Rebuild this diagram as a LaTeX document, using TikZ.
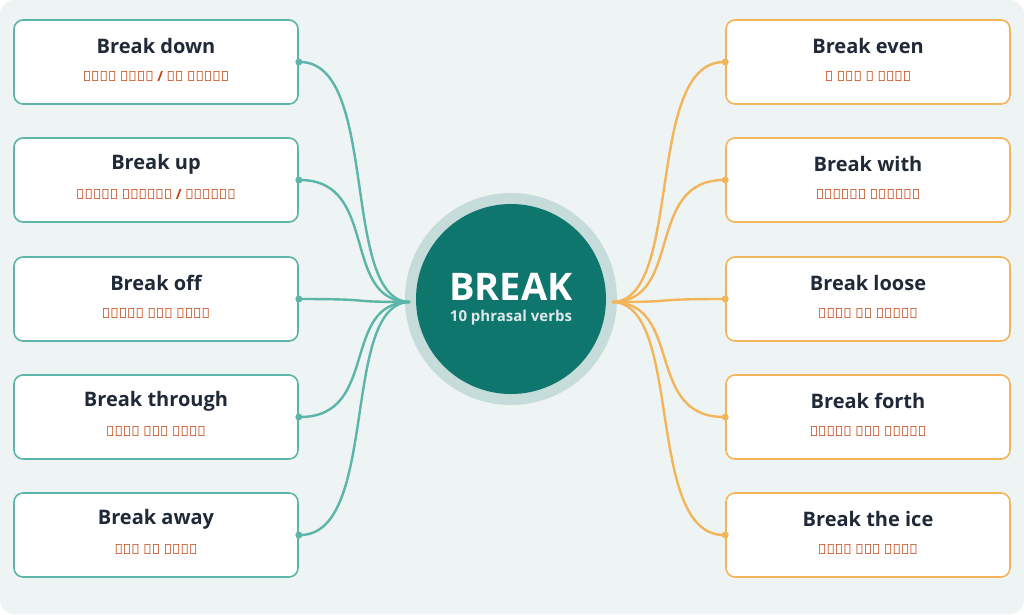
\documentclass[tikz,border=0pt]{standalone}
\usepackage{fontspec}
\setmainfont{Open Sans}
\usetikzlibrary{positioning}
\definecolor{bgc}{HTML}{EEF3F3}
\definecolor{hubc}{HTML}{0F766E}
\definecolor{ringc}{HTML}{C5DCDA}
\definecolor{tealc}{HTML}{5BB5A8}
\definecolor{orangec}{HTML}{F2B55A}
\definecolor{hindic}{HTML}{C2410C}
\definecolor{titlec}{HTML}{1F2937}
\tikzset{
  box/.style={draw=#1,line width=1.6pt,rounded corners=9pt,fill=white,
    minimum width=284pt,minimum height=84pt},
  verb/.style={font=\bfseries\fontsize{20}{24}\selectfont,text=titlec},
  gloss/.style={font=\bfseries\fontsize{14}{17}\selectfont,text=hindic},
  link/.style={draw=#1,line width=2.4pt},
  dot/.style={circle,fill=#1,inner sep=0pt,minimum size=7pt}
}
\begin{document}
\begin{tikzpicture}[x=1pt,y=-1pt]
  \useasboundingbox (0,0) rectangle (1024,614);
  \fill[bgc,rounded corners=14pt] (0,0) rectangle (1024,614);

  % hub
  \node[circle,fill=ringc,minimum size=212pt] (ring) at (511,299) {};
  \node[circle,fill=hubc,minimum size=190pt] (hub) at (511,299) {};
  \node[font=\bfseries\fontsize{38}{44}\selectfont,text=white] (title) at (511,287) {BREAK};
  \node[font=\bfseries\fontsize{15}{18}\selectfont,text=white!85!hubc,below=2pt of title] (sub) {10 phrasal verbs};
  \coordinate (hubL) at (410,302);
  \coordinate (hubR) at (612,302);

  % left side
  \foreach \i/\y/\v/\g in {1/62/Break down/{खराब होना / रो पड़ना},
                           2/180/Break up/{संबंध तोड़ना / बिखरना},
                           3/299/Break off/अचानक बंद करना,
                           4/417/Break through/बाधा पार करना,
                           5/535/Break away/अलग हो जाना}{
    \draw[link=tealc] (300,\y) .. controls (380,\y) and (340,302) .. (hubL);
    \node[box=tealc] (L\i) at (156,\y) {};
    \node[verb] (Lv\i) at (156,\y-16) {\v};
    \node[gloss] (Lg\i) at (156,\y+14) {\g};
    \node[dot=tealc] at (L\i.east) {};
  }

  % right side
  \foreach \i/\y/\v/\g in {1/62/Break even/न लाभ न हानि,
                           2/180/Break with/परंपरा तोड़ना,
                           3/299/Break loose/बंधन से छूटना,
                           4/417/Break forth/अचानक फूट पड़ना,
                           5/535/Break the ice/झिझक दूर करना}{
    \draw[link=orangec] (724,\y) .. controls (644,\y) and (684,302) .. (hubR);
    \node[box=orangec] (R\i) at (868,\y) {};
    \node[verb] (Rv\i) at (868,\y-16) {\v};
    \node[gloss] (Rg\i) at (868,\y+14) {\g};
    \node[dot=orangec] at (R\i.west) {};
  }
\end{tikzpicture}
\end{document}
